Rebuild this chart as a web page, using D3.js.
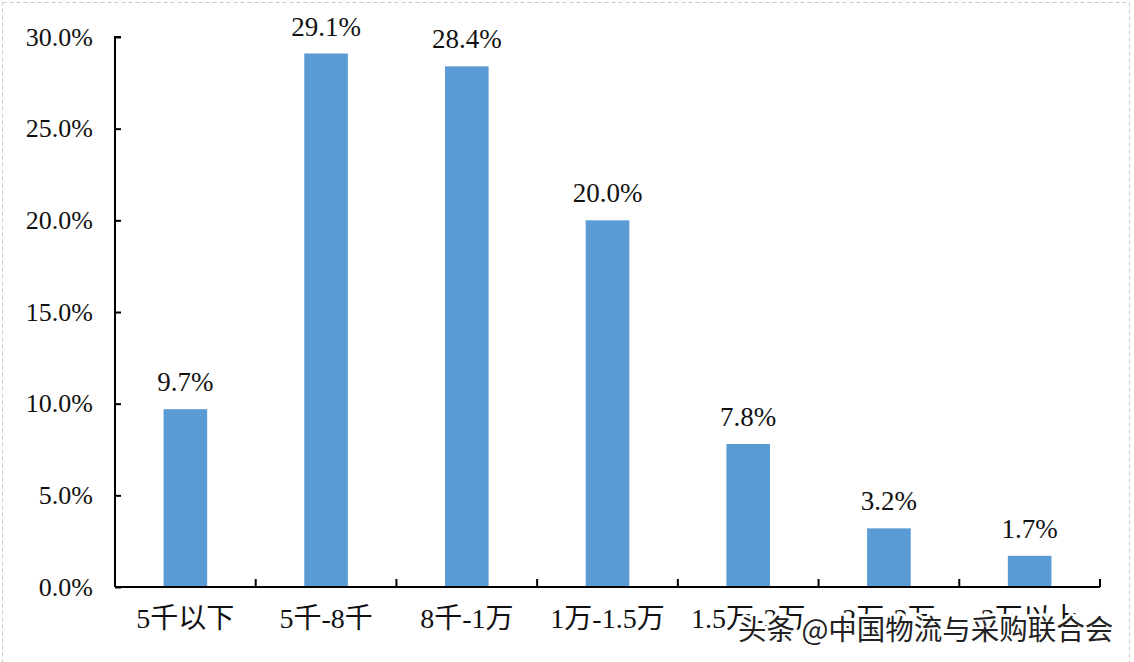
<!DOCTYPE html>
<html><head><meta charset="utf-8">
<script src="https://cdn.jsdelivr.net/npm/d3@7"></script>
<style>body{margin:0;background:#fff;}svg{display:block;}</style>
</head><body>
<svg id="c" width="1134" height="662"></svg>
<script>
const categories = ["5千以下","5千-8千","8千-1万","1万-1.5万","1.5万-2万","2万-3万","3万以上"];
const values = [9.7, 29.1, 28.4, 20.0, 7.8, 3.2, 1.7];
const yTicks = [0, 5, 10, 15, 20, 25, 30];
const watermark = "头条 @中国物流与采购联合会";

(function(){
const svg = d3.select("#c");
const serif = "'Liberation Serif','Times New Roman','Noto Sans CJK SC',serif";
const pL = 115, pR = 1100, pT = 37, pB = 587;

svg.append("rect").attr("x",2.5).attr("y",2.5).attr("width",1127).attr("height",670)
  .attr("fill","#fff").attr("stroke","#c8c8c8").attr("stroke-dasharray","4,3");

const x = d3.scaleBand().domain(categories).range([pL,pR]).paddingInner(0.69).paddingOuter(0.345);
const y = d3.scaleLinear().domain([0,30]).range([pB,pT]);

svg.selectAll("rect.bar").data(values).join("rect").attr("class","bar")
  .attr("x",(d,i)=>x(categories[i])).attr("width",x.bandwidth())
  .attr("y",d=>y(d)).attr("height",d=>pB-y(d)).attr("fill","#5b9bd5");

svg.selectAll("text.val").data(values).join("text").attr("class","val")
  .attr("x",(d,i)=>x(categories[i])+x.bandwidth()/2).attr("y",d=>y(d)-18)
  .attr("text-anchor","middle").attr("font-family",serif).attr("font-size",27).attr("fill","#111")
  .text(d=>d.toFixed(1)+"%");

// y axis
const ya = svg.append("g").attr("transform",`translate(${pL},0)`)
  .call(d3.axisLeft(y).tickValues(yTicks).tickSize(-6).tickPadding(22).tickFormat(d=>d.toFixed(1)+"%"));
ya.select(".domain").attr("stroke","#000").attr("stroke-width",2).attr("d",`M6,${pT}H0V${pB}`);
ya.selectAll(".tick line").attr("stroke","#000").attr("stroke-width",2);
ya.selectAll(".tick text").attr("font-family",serif).attr("font-size",26).attr("fill","#111");

// x axis
const step = (pR-pL)/categories.length;
const xa = svg.append("g").attr("transform",`translate(0,${pB})`)
  .call(d3.axisBottom(x).tickSize(0).tickPadding(20));
xa.select(".domain").attr("stroke","#000").attr("stroke-width",2).attr("d",`M${pL},0H${pR}`);
xa.selectAll(".tick text").attr("font-family",serif).attr("font-size",28).attr("fill","#111").attr("dy","0.75em");
const bounds = d3.range(1, categories.length+1).map(i=>pL+i*step);
xa.selectAll("line.b").data(bounds).join("line").attr("class","b")
  .attr("x1",d=>d).attr("x2",d=>d).attr("y1",0).attr("y2",-8).attr("stroke","#000").attr("stroke-width",2);

// watermark
svg.append("text").attr("x",738).attr("y",640).attr("font-family","'Noto Sans CJK SC',sans-serif")
  .attr("font-size",28.5).attr("fill","#222").attr("stroke","#fff").attr("stroke-width",6)
  .attr("stroke-linejoin","round").attr("paint-order","stroke").text(watermark);
})();
</script>
</body></html>
